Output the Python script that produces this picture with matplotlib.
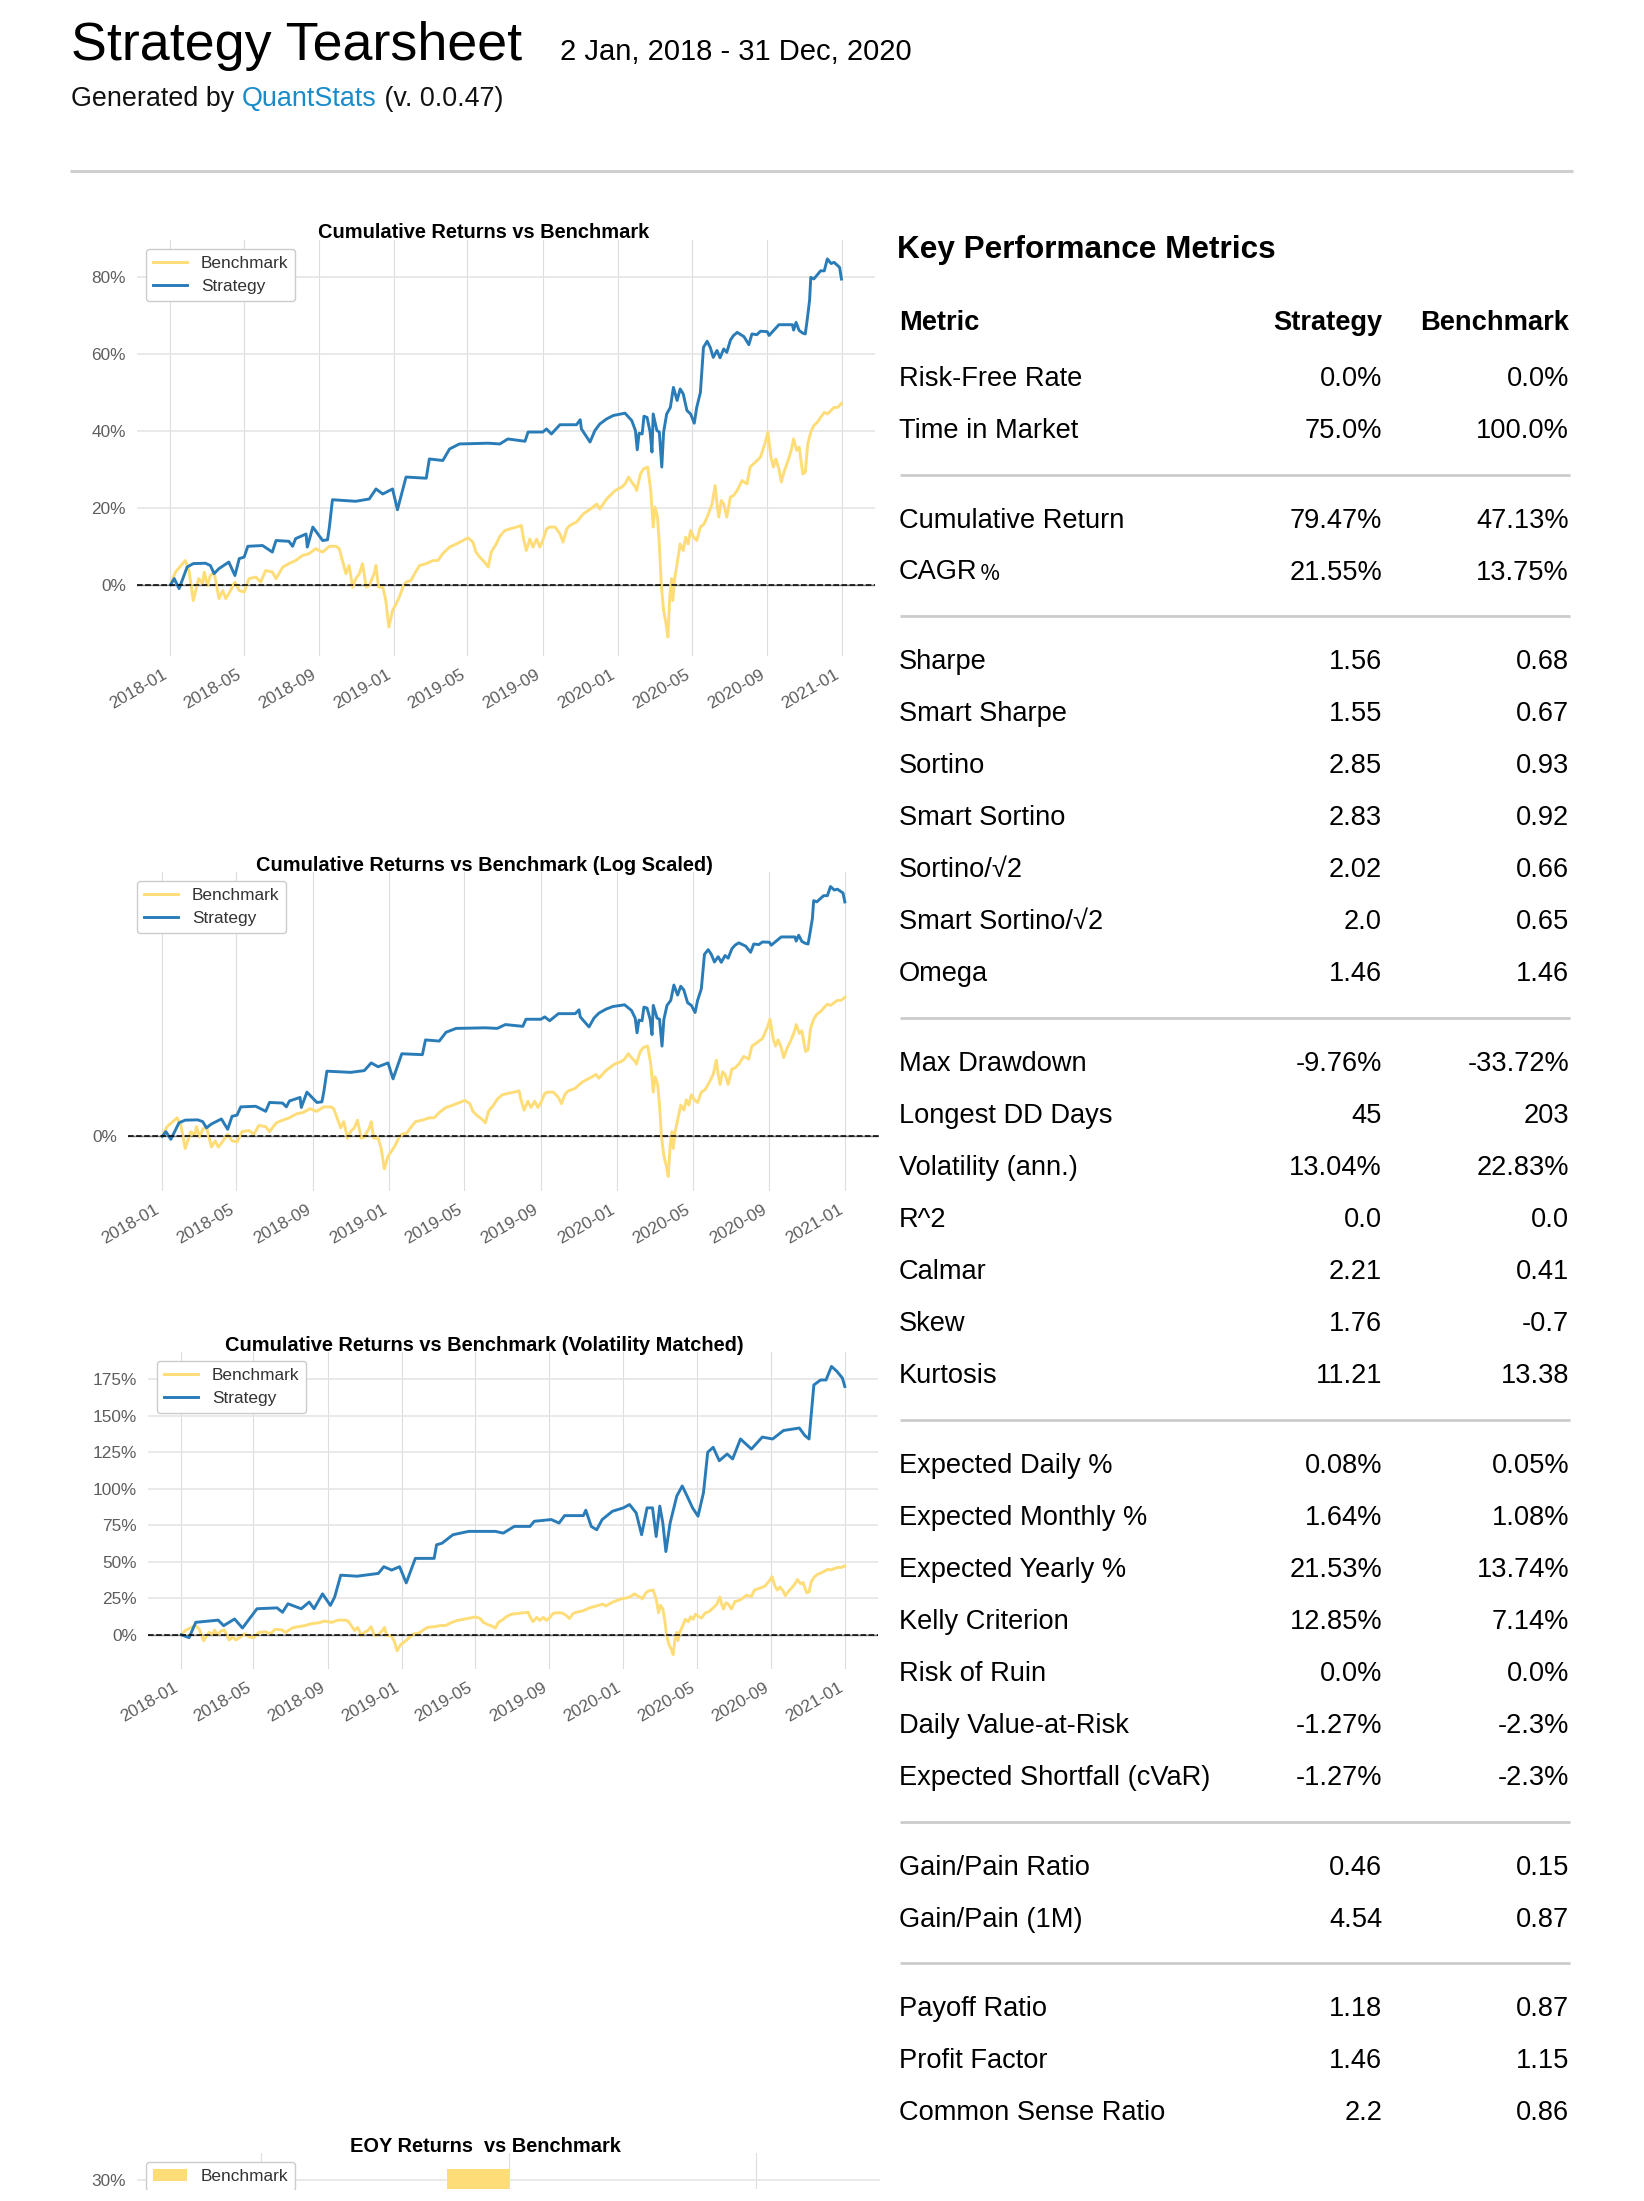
import matplotlib
matplotlib.use("Agg")
import matplotlib.pyplot as plt
import matplotlib.dates as mdates
from matplotlib.lines import Line2D
from matplotlib.patches import Rectangle
from matplotlib.ticker import FuncFormatter, MultipleLocator, FixedLocator
import pandas as pd
import numpy as np

# ---------------- DATA ----------------
strat_dates = ["2018-01-02","2018-01-08","2018-01-16","2018-01-29","2018-02-08","2018-02-28","2018-03-08","2018-03-14",
"2018-03-22","2018-04-07","2018-04-17","2018-04-24","2018-05-02","2018-05-08","2018-06-01","2018-06-17","2018-06-23",
"2018-07-14","2018-07-20","2018-07-25","2018-08-11","2018-08-13","2018-08-22","2018-09-07","2018-09-15","2018-09-18",
"2018-09-23","2018-10-31","2018-11-22","2018-12-03","2018-12-14","2018-12-30","2019-01-07","2019-01-21","2019-02-23",
"2019-02-28","2019-03-22","2019-04-02","2019-04-18","2019-06-04","2019-06-23","2019-07-06","2019-08-03","2019-08-08",
"2019-09-01","2019-09-07","2019-09-15","2019-09-29","2019-10-26","2019-11-01","2019-11-03","2019-11-17","2019-11-25",
"2019-12-03","2019-12-14","2019-12-25","2020-01-13","2020-01-24","2020-01-30","2020-02-02","2020-02-05","2020-02-10",
"2020-02-13","2020-02-18","2020-02-23","2020-02-26","2020-02-28","2020-03-05","2020-03-09","2020-03-13","2020-03-16",
"2020-03-21","2020-03-27","2020-04-01","2020-04-07","2020-04-12","2020-04-17","2020-04-23","2020-04-29","2020-05-05",
"2020-05-09","2020-05-15","2020-05-20","2020-05-26","2020-05-31","2020-06-05","2020-06-11","2020-06-16","2020-06-22",
"2020-06-27","2020-07-03","2020-07-08","2020-07-14","2020-07-25","2020-08-02","2020-08-07","2020-08-15","2020-08-21",
"2020-09-01","2020-09-04","2020-09-12","2020-09-20","2020-10-12","2020-10-14","2020-10-18","2020-10-23","2020-10-29",
"2020-11-02","2020-11-05","2020-11-09","2020-11-11","2020-11-16","2020-11-27","2020-12-03","2020-12-08","2020-12-14",
"2020-12-19","2020-12-28","2020-12-31"]
strat_vals = [0.0,1.6,-1.0,4.6,5.5,5.6,5.0,2.9,
4.2,5.9,2.4,6.8,7.2,10.0,10.2,8.5,11.5,
11.3,10.0,12.0,13.2,9.8,15.0,11.5,11.7,15.0,
22.1,21.7,22.3,24.9,23.6,24.9,19.5,28.0,27.7,
32.7,32.3,35.3,36.6,36.8,36.6,37.9,37.3,39.7,
39.7,40.5,39.2,41.6,41.6,42.9,40.5,37.1,40.1,
41.8,43.1,44.0,44.6,42.7,40.1,35.1,39.4,39.2,
43.8,43.5,39.7,34.5,44.4,40.1,39.7,30.6,39.7,
44.4,46.1,51.3,47.9,50.9,49.6,45.3,44.4,42.0,
46.1,50.0,61.7,63.3,61.7,59.1,60.9,59.0,61.3,
60.4,63.6,64.8,65.6,64.5,62.4,65.2,65.0,65.9,
65.8,64.8,66.2,67.6,67.6,66.2,68.2,66.1,65.4,
65.2,68.7,73.9,79.9,79.5,81.6,81.6,84.7,83.5,
83.8,82.5,79.47]

bench_dates = ["2018-01-02","2018-01-10","2018-01-26","2018-02-01","2018-02-08","2018-02-12","2018-02-17","2018-02-23",
"2018-02-26","2018-03-03","2018-03-08","2018-03-14","2018-03-22","2018-03-28","2018-04-02","2018-04-07","2018-04-17",
"2018-04-24","2018-05-02","2018-05-10","2018-05-21","2018-05-29","2018-06-06","2018-06-17","2018-06-23","2018-07-04",
"2018-07-14","2018-07-25","2018-08-05","2018-08-16","2018-08-27","2018-09-01","2018-09-07","2018-09-18","2018-09-29",
"2018-10-04","2018-10-10","2018-10-15","2018-10-20","2018-10-26","2018-10-31","2018-11-06","2018-11-11","2018-11-17",
"2018-11-22","2018-11-30","2018-12-03","2018-12-07","2018-12-14","2018-12-19","2018-12-24","2018-12-30","2019-01-05",
"2019-01-10","2019-01-16","2019-01-21","2019-01-29","2019-02-04","2019-02-12","2019-02-23","2019-03-06","2019-03-14",
"2019-03-22","2019-04-02","2019-04-13","2019-04-24","2019-05-02","2019-05-10","2019-05-15","2019-05-21","2019-05-29",
"2019-06-04","2019-06-09","2019-06-17","2019-06-23","2019-07-01","2019-07-09","2019-07-20","2019-07-28","2019-07-31",
"2019-08-05","2019-08-11","2019-08-16","2019-08-22","2019-08-27","2019-09-01","2019-09-07","2019-09-12","2019-09-21",
"2019-09-29","2019-10-04","2019-10-10","2019-10-15","2019-10-26","2019-11-06","2019-11-14","2019-11-22","2019-11-28",
"2019-12-03","2019-12-14","2019-12-28","2020-01-08","2020-01-13","2020-01-19","2020-01-24","2020-01-30","2020-02-01",
"2020-02-07","2020-02-12","2020-02-19","2020-02-24","2020-02-28","2020-03-02","2020-03-06","2020-03-09","2020-03-12",
"2020-03-16","2020-03-20","2020-03-23","2020-03-26","2020-03-29","2020-03-31","2020-04-03","2020-04-07","2020-04-12",
"2020-04-17","2020-04-21","2020-04-25","2020-04-29","2020-05-04","2020-05-09","2020-05-15","2020-05-21","2020-05-28",
"2020-06-03","2020-06-08","2020-06-11","2020-06-14","2020-06-18","2020-06-22","2020-06-27","2020-07-03","2020-07-08",
"2020-07-14","2020-07-22","2020-07-30","2020-08-04","2020-08-13","2020-08-21","2020-08-29","2020-09-02","2020-09-07",
"2020-09-11","2020-09-15","2020-09-20","2020-09-24","2020-09-29","2020-10-05","2020-10-10","2020-10-14","2020-10-19",
"2020-10-23","2020-10-29","2020-11-02","2020-11-06","2020-11-11","2020-11-16","2020-11-22","2020-11-27","2020-12-03",
"2020-12-08","2020-12-14","2020-12-19","2020-12-25","2020-12-31"]
bench_vals = [0.0,3.3,6.3,3.7,-4.1,-1.5,1.6,0.3,
3.3,-0.2,2.4,3.3,-3.6,-1.5,-3.6,-2.3,0.7,
-1.5,-1.9,1.6,2.0,0.7,3.7,3.3,1.6,4.6,
5.5,6.3,7.6,8.1,9.4,8.9,8.5,10.0,10.0,
9.4,5.9,2.9,5.0,-0.6,1.6,2.9,5.5,-0.6,
-0.2,2.9,5.0,-0.6,-0.6,-4.1,-11.0,-6.7,-4.9,
-3.2,-0.6,0.7,1.1,2.9,5.0,5.5,6.3,6.3,
8.1,9.8,10.6,11.5,12.2,11.1,8.5,7.2,5.9,
4.6,8.5,10.6,12.6,14.1,14.5,15.0,15.4,12.4,
8.9,11.9,9.8,11.9,9.8,11.5,14.5,15.0,15.0,
13.2,11.1,14.5,15.4,16.3,18.4,19.3,20.2,21.0,
19.7,22.3,24.5,25.4,26.2,28.0,26.7,25.4,24.5,
28.7,30.1,30.6,24.5,15.0,20.2,17.6,10.6,0.3,
-6.7,-10.1,-13.6,-3.2,1.6,-4.1,1.6,5.5,10.6,
8.9,12.4,10.6,14.1,12.4,11.5,15.0,15.8,18.4,
21.0,25.8,21.0,17.6,21.9,21.0,17.6,22.8,23.2,
24.5,27.1,26.2,30.6,31.9,33.2,37.1,39.7,33.2,
30.6,32.7,30.1,26.7,29.7,32.3,34.9,37.9,34.9,
35.8,28.8,29.3,36.6,39.7,41.4,42.3,43.5,44.8,
44.4,45.3,46.1,46.1,47.13]

volm_dates = ["2018-01-02","2018-01-15","2018-01-26","2018-03-04","2018-03-13","2018-03-31","2018-04-13","2018-05-07",
"2018-06-09","2018-06-18","2018-06-27","2018-07-19","2018-08-01","2018-08-09","2018-08-23","2018-09-05","2018-09-12",
"2018-09-22","2018-10-19","2018-11-23","2018-12-02","2018-12-15","2018-12-28","2019-01-08","2019-01-23","2019-02-23",
"2019-02-27","2019-03-08","2019-03-26","2019-04-21","2019-06-04","2019-06-17","2019-07-05","2019-07-31","2019-08-07",
"2019-09-04","2019-09-17","2019-09-26","2019-10-27","2019-10-31","2019-11-09","2019-11-18","2019-11-27","2019-12-14",
"2020-01-01","2020-01-11","2020-01-22","2020-01-31","2020-02-09","2020-02-18","2020-02-24","2020-03-01","2020-03-06",
"2020-03-11","2020-03-18","2020-03-29","2020-04-07","2020-04-15","2020-04-24","2020-05-03","2020-05-12","2020-05-19",
"2020-05-28","2020-06-07","2020-06-20","2020-06-29","2020-07-12","2020-07-30","2020-08-17","2020-09-03","2020-09-21",
"2020-10-17","2020-10-26","2020-11-02","2020-11-10","2020-11-21","2020-11-30","2020-12-09","2020-12-18","2020-12-27",
"2020-12-31"]
volm_vals = [0.0,-2.0,8.5,10.0,6.2,10.8,4.6,17.8,
18.4,15.4,21.2,17.8,22.4,17.8,28.0,20.1,25.8,
40.8,40.1,42.0,46.6,44.3,46.6,35.5,52.3,52.3,
61.6,62.7,68.5,70.8,70.8,69.6,74.2,74.2,77.7,
78.9,76.5,81.6,81.6,85.3,74.2,71.9,78.9,84.6,
86.9,89.2,83.5,68.5,86.9,86.9,67.3,88.1,76.5,
57.0,76.5,95.0,101.9,95.0,86.9,81.2,97.3,125.0,
128.4,119.2,123.8,120.4,134.1,127.2,135.4,134.1,139.9,
141.6,136.5,134.1,171.1,174.5,174.5,183.8,180.4,175.8,
170.0]

eoy_years = ["2018", "2019", "2020"]
eoy_bench = [-5.2, 31.2, 15.0]
eoy_strat = [24.3, 16.0, 24.6]

metric_names = ["Risk-Free Rate", "Time in Market",
                "Cumulative Return", "CAGR\uFE6A",
                "Sharpe", "Smart Sharpe", "Sortino", "Smart Sortino", "Sortino/\u221A2", "Smart Sortino/\u221A2", "Omega",
                "Max Drawdown", "Longest DD Days", "Volatility (ann.)", "R^2", "Calmar", "Skew", "Kurtosis",
                "Expected Daily %", "Expected Monthly %", "Expected Yearly %", "Kelly Criterion", "Risk of Ruin",
                "Daily Value-at-Risk", "Expected Shortfall (cVaR)",
                "Gain/Pain Ratio", "Gain/Pain (1M)",
                "Payoff Ratio", "Profit Factor", "Common Sense Ratio"]
strategy_col = ["0.0%", "75.0%", "79.47%", "21.55%", "1.56", "1.55", "2.85", "2.83", "2.02", "2.0", "1.46",
                "-9.76%", "45", "13.04%", "0.0", "2.21", "1.76", "11.21", "0.08%", "1.64%", "21.53%", "12.85%",
                "0.0%", "-1.27%", "-1.27%", "0.46", "4.54", "1.18", "1.46", "2.2"]
benchmark_col = ["0.0%", "100.0%", "47.13%", "13.75%", "0.68", "0.67", "0.93", "0.92", "0.66", "0.65", "1.46",
                 "-33.72%", "203", "22.83%", "0.0", "0.41", "-0.7", "13.38", "0.05%", "1.08%", "13.74%", "7.14%",
                 "0.0%", "-2.3%", "-2.3%", "0.15", "0.87", "0.87", "1.15", "0.86"]
group_sizes = [2, 2, 7, 7, 7, 2, 3]

# ---------------- STYLE ----------------
W, H = 1644, 2201
FONT = ["Liberation Sans", "DejaVu Sans"]
plt.rcParams["font.family"] = FONT
BENCH_C = "#fedd78"
STRAT_C = "#2a7cb8"
TICK_FS = 12.45
TITLE_FS = 14.4
LW = 2.1

fig = plt.figure(figsize=(W / 100, H / 100), dpi=100)
fig.patch.set_facecolor("white")


def add_ax(l, t, r, b):
    return fig.add_axes([l / W, 1 - b / H, (r - l) / W, (b - t) / H])


def ftext(x, y, s, **kw):
    return fig.text(x / W, 1 - y / H, s, **kw)


def hline(x0, x1, y, color="#cccccc", lw=2.0):
    fig.add_artist(Line2D([x0 / W, x1 / W], [1 - y / H, 1 - y / H], transform=fig.transFigure,
                          color=color, lw=lw, solid_capstyle="butt"))


pct = FuncFormatter(lambda v, _: "{:.0f}%".format(v))


def style(ax):
    for s in ax.spines.values():
        s.set_visible(False)
    ax.set_facecolor("white")
    ax.grid(True, axis="y", color="#e3e3e3", lw=1.1)
    ax.grid(True, axis="x", color="#dddddd", lw=0.8)
    ax.set_axisbelow(True)
    ax.tick_params(length=0, labelsize=TICK_FS, colors="#5e5e5e", pad=8)


def make_legend(ax, **kw):
    leg = ax.legend(loc="upper left", fontsize=TICK_FS, frameon=True, edgecolor="#cccccc",
                    fancybox=True, framealpha=1.0, **kw)
    for t in leg.get_texts():
        t.set_color("#333333")
    return leg


def ts_chart(ax, title_y, title, sdates, svals, log=False):
    bd = pd.to_datetime(bench_dates)
    sd = pd.to_datetime(sdates)
    ax.plot(bd, bench_vals, color=BENCH_C, lw=LW, label="Benchmark")
    ax.plot(sd, svals, color=STRAT_C, lw=LW, label="Strategy")
    ax.axhline(0, ls="-", lw=1, color="gray", zorder=1)
    ax.axhline(0, ls="--", lw=1.1, color="black", zorder=2)
    style(ax)
    if log:
        ax.set_yscale("symlog", linthresh=200)
        ax.yaxis.set_major_locator(FixedLocator([0]))
        ax.yaxis.set_minor_locator(FixedLocator([]))
    ax.yaxis.set_major_formatter(pct)
    ax.xaxis.set_major_locator(mdates.MonthLocator(bymonth=[1, 5, 9]))
    ax.xaxis.set_major_formatter(mdates.DateFormatter("%Y-%m"))
    for lab in ax.get_xticklabels():
        lab.set_rotation(30)
        lab.set_ha("right")
    make_legend(ax)
    ftext(484, title_y, title, fontsize=TITLE_FS, fontweight="bold", ha="center", va="baseline", color="black")


# ---------------- HEADER ----------------
ftext(71, 60, "Strategy Tearsheet", fontsize=38.8, va="baseline", color="black")
ftext(560, 60, "2 Jan, 2018 - 31 Dec, 2020", fontsize=21, va="baseline", color="black")
renderer = fig.canvas.get_renderer()
t1 = ftext(71, 106, "Generated by ", fontsize=19.4, va="baseline", color="#111111")
x1 = t1.get_window_extent(renderer).x1
t2 = fig.text(x1 / W, 1 - 106 / H, "QuantStats", fontsize=19.4, va="baseline", color="#1a8bca")
x2 = t2.get_window_extent(renderer).x1
fig.text(x2 / W, 1 - 106 / H, " (v. 0.0.47)", fontsize=19.4, va="baseline", color="#111111")
hline(70, 1573, 171, color="#cfcfcf", lw=2.2)

# ---------------- CHARTS ----------------
ax1 = add_ax(137, 240, 875, 656)
ts_chart(ax1, 238, "Cumulative Returns vs Benchmark", strat_dates, strat_vals)
ax1.yaxis.set_major_locator(MultipleLocator(20))

ax2 = add_ax(128, 872, 879, 1191)
ts_chart(ax2, 871, "Cumulative Returns vs Benchmark (Log Scaled)", strat_dates, strat_vals, log=True)

ax3 = add_ax(148, 1352, 878, 1669)
ts_chart(ax3, 1351, "Cumulative Returns vs Benchmark (Volatility Matched)", volm_dates, volm_vals)
ax3.yaxis.set_major_locator(MultipleLocator(25))

# EOY chart: only its top strip is inside the page
ax4 = add_ax(137, 2153, 880, 2189)
xpos = np.arange(len(eoy_years))
bb = ax4.bar(xpos - 0.125, eoy_bench, width=0.25, color=BENCH_C, label="Benchmark")
ax4.bar(xpos + 0.125, eoy_strat, width=0.25, color=STRAT_C)
style(ax4)
ax4.set_xlim(-0.5, len(eoy_years) - 0.5)
ax4.set_ylim(29, 33)
ax4.set_xticks(xpos)
ax4.set_xticklabels([])
ax4.yaxis.set_major_locator(FixedLocator([30]))
ax4.yaxis.set_major_formatter(pct)
make_legend(ax4, handles=[bb], labels=["Benchmark"])
ftext(485, 2152, "EOY Returns  vs Benchmark", fontsize=TITLE_FS, fontweight="bold", ha="center", va="baseline")
# the page is cut off just below this strip
fig.add_artist(Rectangle((0, 0), 1, (H - 2190) / H, transform=fig.transFigure, facecolor="white",
                         edgecolor="none", zorder=10))

# ---------------- METRICS TABLE ----------------
TFS = 19.6
ftext(897, 258, "Key Performance Metrics", fontsize=22.7, fontweight="bold", va="baseline", color="black")
XM, XS, XB = 899, 1382, 1569
ftext(XM, 329.5, "Metric", fontsize=TFS, fontweight="bold", va="baseline")
ftext(XS, 329.5, "Strategy", fontsize=TFS, fontweight="bold", va="baseline", ha="right")
ftext(XB, 329.5, "Benchmark", fontsize=TFS, fontweight="bold", va="baseline", ha="right")

y = 376.0
step = 52.0
gap = 37.8
idx = 0
for gi, n in enumerate(group_sizes):
    for k in range(n):
        name = metric_names[idx]
        if name.startswith("CAGR"):
            ftext(XM, y + 9.7, name, fontsize=TFS, va="baseline",
                  family=["Liberation Sans", "Noto Sans CJK SC", "DejaVu Sans"])
        else:
            ftext(XM, y + 9.7, name, fontsize=TFS, va="baseline")
        ftext(XS, y + 9.7, strategy_col[idx], fontsize=TFS, va="baseline", ha="right")
        ftext(XB, y + 9.7, benchmark_col[idx], fontsize=TFS, va="baseline", ha="right")
        idx += 1
        y += step
    if gi < len(group_sizes) - 1:
        hline(900, 1570, y - step + 46.5, color="#cccccc", lw=2.0)
        y += gap

fig.savefig("out.png", dpi=100, facecolor="white")
